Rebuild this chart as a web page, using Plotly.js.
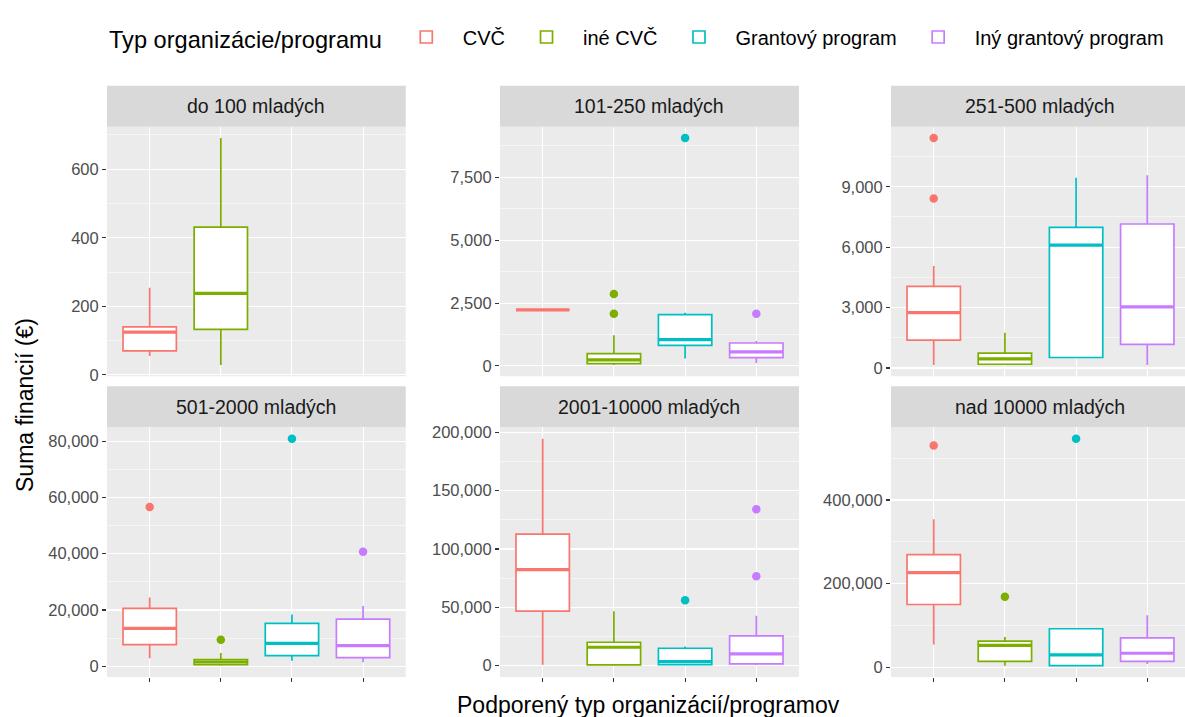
<!DOCTYPE html>
<html><head><meta charset="utf-8">
<script src="https://cdn.plot.ly/plotly-3.0.1.min.js"></script>
<style>html,body{margin:0;padding:0;background:#fff}#chart{width:1185px;height:717px}</style>
</head><body><div id="chart"></div>
<script>
const categories = ['CVČ', 'iné CVČ', 'Grantový program', 'Iný grantový program'];
const facets = ['do 100 mladých', '101-250 mladých', '251-500 mladých', '501-2000 mladých', '2001-10000 mladých', 'nad 10000 mladých'];

// per facet (rows) and category (columns)
const lowerWhisker = [
  [55, 29, null, null],
  [2230, 40, 294, 119],
  [150, 150, 520, 150],
  [2830, 200, 1980, 1400],
  [860, 0, 500, 500],
  [54700, 4100, 4100, 8000]
];
const q1 = [
  [70, 133, null, null],
  [2230, 95, 821, 333],
  [1385, 185, 520, 1170],
  [7650, 570, 3760, 3050],
  [46700, 700, 860, 1460],
  [150200, 14460, 4100, 14460]
];
const median = [
  [125, 238, null, null],
  [2230, 238, 1048, 556],
  [2750, 450, 6100, 3035],
  [13450, 1500, 8140, 7300],
  [82350, 15750, 3440, 10070],
  [226500, 52300, 29650, 33740]
];
const q3 = [
  [140, 431, null, null],
  [2230, 492, 2040, 913],
  [4050, 735, 6985, 7150],
  [20530, 2340, 15220, 16740],
  [112700, 20050, 14900, 25560],
  [269200, 62700, 92300, 70600]
];
const upperWhisker = [
  [254, 691, null, null],
  [2230, 1218, 2119, 992],
  [5070, 1750, 9450, 9570],
  [24430, 4700, 18400, 21450],
  [194500, 46700, 16350, 42770],
  [353600, 72300, 92300, 124600]
];
// outliers: category index and value, per facet
const outlierCategory = [
  [],
  [1, 1, 2, 3],
  [0, 0],
  [0, 1, 2, 3],
  [2, 3, 3],
  [0, 1, 2]
];
const outlierValue = [
  [],
  [2857, 2079, 9063, 2079],
  [11420, 8420],
  [56640, 9420, 80900, 40700],
  [55940, 134000, 76600],
  [530200, 168700, 546400]
];
const yTickStep = [200, 2500, 3000, 20000, 50000, 200000];

const colors = ['#F8766D', '#7CAE00', '#00BFC4', '#C77CFF'];
const FONT = 'Liberation Sans, Arial, sans-serif';

// layout geometry (paper fractions)
const xDomains = [[0.0903, 0.3424], [0.4219, 0.6743], [0.7519, 1.0]];
const xRanges = [[-0.6, 3.6], [-0.6, 3.6], [-0.6, 3.53]];
const yDomains = [[0.4752, 0.8233], [0.0558, 0.4040]];
const stripH = 0.0572;

const traces = [];
const shown = [false, false, false, false];
for (let c = 0; c < categories.length; c++) {
  for (let f = 0; f < facets.length; f++) {
    if (median[f][c] == null) continue;
    const ax = f === 0 ? '' : String(f + 1);
    traces.push({
      type: 'box', orientation: 'v',
      name: categories[c], legendgroup: categories[c], showlegend: !shown[c],
      x: [categories[c]],
      q1: [q1[f][c]], median: [median[f][c]], q3: [q3[f][c]],
      lowerfence: [lowerWhisker[f][c]], upperfence: [upperWhisker[f][c]],
      width: 0.75, fillcolor: 'white',
      line: { color: colors[c], width: 1.7 },
      whiskerwidth: 0, boxpoints: false, hoverinfo: 'skip',
      xaxis: 'x' + ax, yaxis: 'y' + ax
    });
    shown[c] = true;
  }
}
// thicker median lines (ggplot "fatten"), drawn as degenerate boxes at the median
for (let c = 0; c < categories.length; c++) {
  for (let f = 0; f < facets.length; f++) {
    if (median[f][c] == null) continue;
    const ax = f === 0 ? '' : String(f + 1);
    const m = median[f][c];
    traces.push({
      type: 'box', orientation: 'v', showlegend: false, legendgroup: categories[c],
      x: [categories[c]], q1: [m], median: [m], q3: [m], lowerfence: [m], upperfence: [m],
      width: 0.75, fillcolor: colors[c], line: { color: colors[c], width: 3.2 },
      whiskerwidth: 0, boxpoints: false, hoverinfo: 'skip',
      xaxis: 'x' + ax, yaxis: 'y' + ax
    });
  }
}
for (let f = 0; f < facets.length; f++) {
  const ax = f === 0 ? '' : String(f + 1);
  for (let c = 0; c < categories.length; c++) {
    const ys = [], xs = [];
    outlierCategory[f].forEach((k, i) => { if (k === c) { xs.push(categories[c]); ys.push(outlierValue[f][i]); } });
    if (!ys.length) continue;
    traces.push({
      type: 'scatter', mode: 'markers', x: xs, y: ys, showlegend: false, hoverinfo: 'skip',
      marker: { color: colors[c], size: 8.5 }, legendgroup: categories[c],
      xaxis: 'x' + ax, yaxis: 'y' + ax
    });
  }
}

const layout = {
  width: 1185, height: 717,
  margin: { l: 0, r: 0, t: 0, b: 0 },
  paper_bgcolor: 'white', plot_bgcolor: '#EBEBEB',
  font: { family: FONT, color: '#1A1A1A' },
  boxmode: 'overlay',
  showlegend: true,
  legend: {
    orientation: 'h', x: 0.0903, xanchor: 'left', y: 0.947, yanchor: 'middle',
    title: { text: 'Typ organizácie/programu', side: 'left', font: { size: 23.6, color: '#000' } },
    font: { size: 20, color: '#000' }, itemwidth: 63,
    bgcolor: 'rgba(0,0,0,0)', itemclick: false, itemdoubleclick: false
  },
  shapes: [], annotations: []
};

for (let f = 0; f < facets.length; f++) {
  const row = Math.floor(f / 3), col = f % 3;
  const ax = f === 0 ? '' : String(f + 1);
  const vals = [];
  categories.forEach((_, c) => { if (lowerWhisker[f][c] != null) { vals.push(lowerWhisker[f][c], upperWhisker[f][c]); } });
  outlierValue[f].forEach(v => vals.push(v));
  const lo = Math.min(...vals), hi = Math.max(...vals), pad = 0.05 * (hi - lo);
  layout['xaxis' + ax] = {
    domain: xDomains[col], anchor: 'y' + ax, type: 'category',
    categoryorder: 'array', categoryarray: categories, range: xRanges[col],
    showgrid: true, gridcolor: 'white', gridwidth: 1.1,
    ticks: row === 1 ? 'outside' : '', ticklen: 4, tickwidth: 1.1, tickcolor: '#333',
    showticklabels: false, zeroline: false, showline: false, fixedrange: true
  };
  layout['yaxis' + ax] = {
    domain: yDomains[row], anchor: 'x' + ax,
    range: [lo - pad, hi + pad], tick0: 0, dtick: yTickStep[f], tickformat: ',d',
    ticks: 'outside', ticklen: 4, tickwidth: 1.1, tickcolor: '#333',
    tickfont: { size: 16.5, color: '#4D4D4D', family: FONT },
    showgrid: true, gridcolor: 'white', gridwidth: 1.1,
    minor: { dtick: yTickStep[f] / 2, tick0: 0, showgrid: true, gridcolor: 'white', gridwidth: 0.55, ticks: '' },
    zeroline: false, showline: false, fixedrange: true
  };
  layout.shapes.push({
    type: 'rect', xref: 'paper', yref: 'paper', layer: 'below',
    x0: xDomains[col][0], x1: xDomains[col][1],
    y0: yDomains[row][1], y1: yDomains[row][1] + stripH,
    fillcolor: '#D9D9D9', line: { width: 0 }
  });
  layout.annotations.push({
    xref: 'paper', yref: 'paper', showarrow: false,
    x: (xDomains[col][0] + (col === 2 ? 0.7519 + 0.2523 : xDomains[col][1])) / 2,
    y: yDomains[row][1] + stripH / 2, xanchor: 'center', yanchor: 'middle',
    text: facets[f], font: { size: 19.5, color: '#1A1A1A', family: FONT }
  });
}
layout.annotations.push({
  xref: 'paper', yref: 'paper', showarrow: false, x: 0.547, y: 0.0167,
  xanchor: 'center', yanchor: 'middle', text: 'Podporený typ organizácií/programov',
  font: { size: 23, color: '#000', family: FONT }
});
layout.annotations.push({
  xref: 'paper', yref: 'paper', showarrow: false, x: 0.021, y: 0.435,
  xanchor: 'center', yanchor: 'middle', textangle: -90, text: 'Suma financií (€)',
  font: { size: 23, color: '#000', family: FONT }
});

Plotly.newPlot('chart', traces, layout, { displayModeBar: false, staticPlot: true });
</script></body></html>
